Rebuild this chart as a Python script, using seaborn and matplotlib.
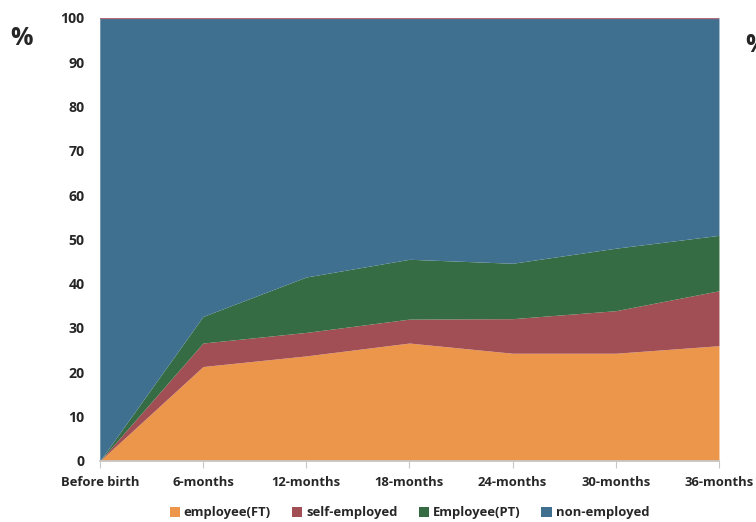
import matplotlib
matplotlib.use("Agg")
import matplotlib.pyplot as plt
import seaborn as sns
import numpy as np
from matplotlib.patches import Patch

periods = ["Before birth", "6-months", "12-months", "18-months",
           "24-months", "30-months", "36-months"]
employee_ft = [0.0, 21.3, 23.7, 26.6, 24.3, 24.3, 26.0]
self_employed = [0.0, 5.3, 5.3, 5.4, 7.8, 9.6, 12.4]
employee_pt = [0.0, 6.0, 12.5, 13.5, 12.5, 14.1, 12.5]
non_employed = [100 - a - b - c for a, b, c in zip(employee_ft, self_employed, employee_pt)]

series_names = ["employee(FT)", "self-employed", "Employee(PT)", "non-employed"]
colors = ["#EC964B", "#A14F55", "#356C43", "#3F7090"]
y_ticks = [0, 10, 20, 30, 40, 50, 60, 70, 80, 90, 100]

sns.set_theme(style="white")
plt.rcParams["font.family"] = ["Open Sans", "DejaVu Sans"]

fig = plt.figure(figsize=(7.56, 5.22), dpi=100)
ax = fig.add_axes([0.132, 0.117, 0.819, 0.849])

x = np.arange(len(periods))
ax.stackplot(x, employee_ft, self_employed, employee_pt, non_employed,
             colors=colors, linewidth=0)
ax.axhline(100, color="#B06A78", lw=1.0, zorder=3)

ax.set_xlim(0, len(periods) - 1)
ax.set_ylim(0, 100)
ax.set_xticks(x)
ax.set_xticklabels(periods, fontsize=9.4, fontweight="bold")
ax.set_yticks(y_ticks)
ax.set_yticklabels([str(t) for t in y_ticks], fontsize=10.2, fontweight="bold")

for side in ["top", "right", "left"]:
    ax.spines[side].set_visible(False)
ax.spines["bottom"].set_color("#C8C8C8")
ax.tick_params(axis="x", which="major", bottom=True, length=5, width=0.8,
               color="#C8C8C8", pad=6)
ax.tick_params(axis="y", left=False, length=0, pad=11)

fig.text(0.029, 0.927, "%", fontsize=18, fontweight="bold", ha="center", va="center")
fig.text(1.0, 0.913, "%", fontsize=18, fontweight="bold", ha="center", va="center")

handles = [Patch(facecolor=c, edgecolor="none") for c in colors]
ax.legend(handles, series_names, loc="center", bbox_to_anchor=(0.5, -0.117),
          ncol=4, frameon=False, handlelength=0.8, handleheight=0.8,
          handletextpad=0.3, columnspacing=1.6,
          prop={"size": 9.4, "weight": "bold"})

fig.savefig("out.png", dpi=100)
